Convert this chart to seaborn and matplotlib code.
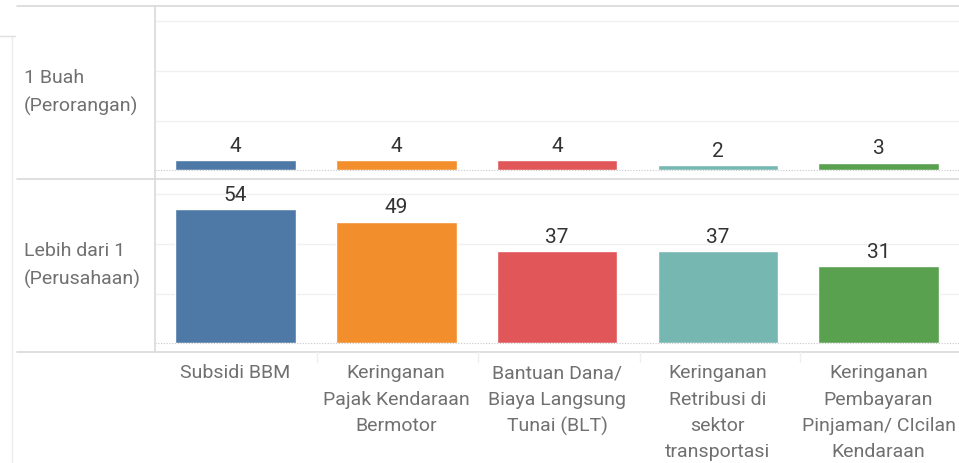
import numpy as np
import pandas as pd
import matplotlib
matplotlib.use("Agg")
import matplotlib.pyplot as plt
from matplotlib.lines import Line2D
import seaborn as sns

# ── Data ──────────────────────────────────────────────────────────────────────

categories = [
    "Subsidi BBM",
    "Keringanan\nPajak Kendaraan\nBermotor",
    "Bantuan Dana/\nBiaya Langsung\nTunai (BLT)",
    "Keringanan\nRetribusi di\nsektor\ntransportasi",
    "Keringanan\nPembayaran\nPinjaman/ CIcilan\nKendaraan",
]
rows = ["1 Buah\n(Perorangan)", "Lebih dari 1\n(Perusahaan)"]
perorangan = [4, 4, 4, 2, 3]
perusahaan = [54, 49, 37, 37, 31]
colors = ["#4e79a7", "#f28e2b", "#e15759", "#76b7b2", "#59a14f"]

df = pd.DataFrame({
    "kategori": categories * 2,
    "baris": [rows[0]] * 5 + [rows[1]] * 5,
    "jumlah": perorangan + perusahaan,
})

# ── Figure ────────────────────────────────────────────────────────────────────

sns.set_style("white")
plt.rcParams["font.family"] = ["Roboto", "DejaVu Sans"]

W, H = 959, 463
fig = plt.figure(figsize=(W / 100, H / 100), dpi=100)

def fx(px):
    return px / W

def fy(py):
    return 1 - py / H

LINE = "#d9d9d9"
GRID = "#f0f0f0"
TEXT = "#707070"

panels = [(6, 179), (179, 352)]
ylim = (-3.6, 66.2)

for i, (row, (top, bot)) in enumerate(zip(rows, panels)):
    ax = fig.add_axes([fx(155), fy(bot), fx(W - 155), (bot - top) / H])
    sub = df[df["baris"] == row]
    sns.barplot(data=sub, x="kategori", y="jumlah", hue="kategori",
                palette=colors, legend=False, width=0.75, ax=ax,
                saturation=1)
    ax.set_ylim(*ylim)
    ax.set_xlim(-0.5, 4.5)
    for y in (20, 40, 60):
        ax.axhline(y, color=GRID, lw=1, zorder=0)
    ax.axhline(0, color="#c8c8c8", lw=0.8, ls=(0, (1, 1.5)), zorder=3)
    for c in ax.containers:
        ax.bar_label(c, padding=3, fontsize=15, color="#333333")
    sns.despine(ax=ax, left=True, bottom=True)
    ax.set_yticks([])
    ax.set_xlabel("")
    ax.set_ylabel("")
    if i == 0:
        ax.set_xticks([])
    else:
        ax.tick_params(axis="x", length=0, pad=9)
        ax.set_xticks(range(len(categories)))
        ax.set_xticklabels(categories, fontsize=14, color=TEXT,
                           linespacing=1.58, va="top")
    fig.text(fx(24), fy((top + bot) / 2), row, ha="left", va="center",
             fontsize=14, color=TEXT, linespacing=1.7)

# frame lines
for py in (6, 179, 352):
    fig.add_artist(Line2D([fx(17), 1], [fy(py), fy(py)], color=LINE, lw=1.2))
fig.add_artist(Line2D([fx(155), fx(155)], [fy(6), fy(352)], color=LINE, lw=1.2))
fig.add_artist(Line2D([fx(12), fx(12)], [fy(36), 0], color="#ececec", lw=1))
fig.add_artist(Line2D([0, fx(15)], [fy(36), fy(36)], color="#e0e0e0", lw=1))
for px in (317, 478, 640, 800):
    fig.add_artist(Line2D([fx(px), fx(px)], [fy(352), fy(362)], color="#efefef", lw=1))

fig.savefig("out.png", dpi=100)
